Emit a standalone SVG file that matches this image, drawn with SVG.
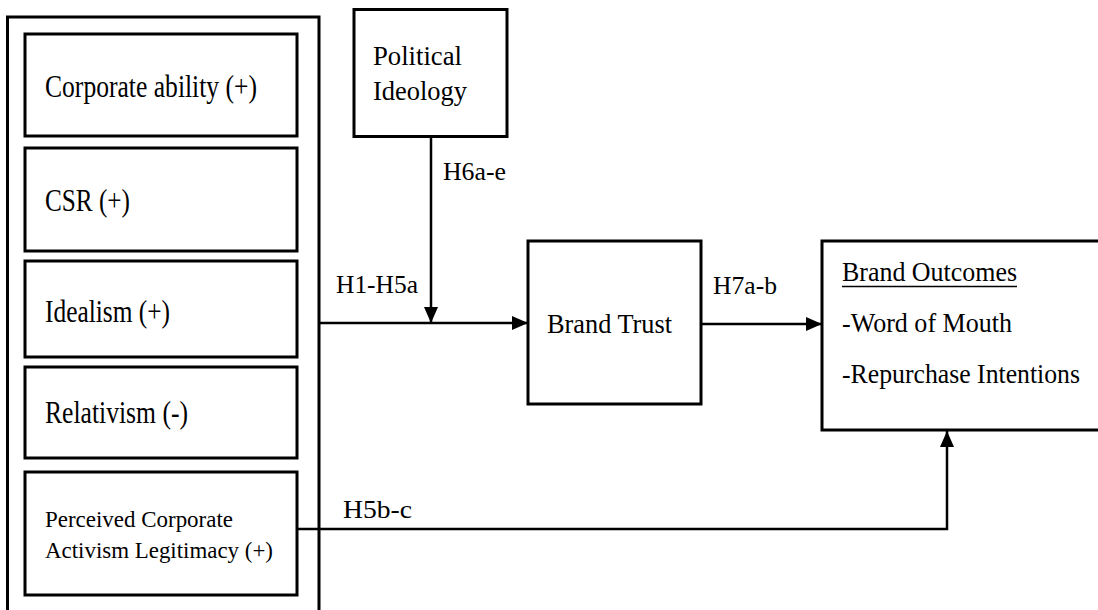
<svg xmlns="http://www.w3.org/2000/svg" width="1098" height="610" viewBox="0 0 1098 610">
  <style>
    .box { fill: #fff; stroke: #000; stroke-width: 3; }
    .frame { fill: none; stroke: #000; stroke-width: 3; }
    .conn { fill: none; stroke: #000; stroke-width: 2.5; }
    text { font-family: "Liberation Serif", "Times New Roman", serif; fill: #000; }
    .lbl { font-size: 31px; }
    .sm { font-size: 24px; }
    .mid { font-size: 28px; }
    .hyp { font-size: 26px; }
  </style>
  <defs>
    <marker id="arrow" viewBox="0 0 16 14" refX="16" refY="7" markerWidth="16" markerHeight="14" markerUnits="userSpaceOnUse" orient="auto">
      <path d="M0,0 L16,7 L0,14 z" fill="#000"/>
    </marker>
  </defs>

  <rect width="1098" height="610" fill="#fff"/>

  <!-- antecedents frame (open at the bottom) -->
  <g id="antecedents">
    <path class="frame" d="M7.5,612 V17 H319 V612"/>
  </g>

  <g id="corporate-ability">
    <rect class="box" x="25" y="34" width="272" height="102"/>
    <text class="lbl" x="45" y="97" textLength="212" lengthAdjust="spacingAndGlyphs">Corporate ability (+)</text>
  </g>
  <g id="csr">
    <rect class="box" x="25" y="148" width="272" height="103"/>
    <text class="lbl" x="45" y="211" textLength="85" lengthAdjust="spacingAndGlyphs">CSR (+)</text>
  </g>
  <g id="idealism">
    <rect class="box" x="25" y="261" width="272" height="96"/>
    <text class="lbl" x="45" y="322" textLength="125" lengthAdjust="spacingAndGlyphs">Idealism (+)</text>
  </g>
  <g id="relativism">
    <rect class="box" x="25" y="367" width="272" height="91"/>
    <text class="lbl" x="45" y="423" textLength="143" lengthAdjust="spacingAndGlyphs">Relativism (-)</text>
  </g>
  <g id="activism-legitimacy">
    <rect class="box" x="25" y="472" width="272" height="123"/>
    <text class="sm" x="45" y="527" textLength="188" lengthAdjust="spacingAndGlyphs">Perceived Corporate</text>
    <text class="sm" x="45" y="558" textLength="228" lengthAdjust="spacingAndGlyphs">Activism Legitimacy (+)</text>
  </g>

  <g id="political-ideology">
    <rect class="box" x="354" y="9.5" width="153" height="127"/>
    <text class="mid" x="373" y="65" textLength="89" lengthAdjust="spacingAndGlyphs">Political</text>
    <text class="mid" x="373" y="100" textLength="94" lengthAdjust="spacingAndGlyphs">Ideology</text>
  </g>

  <g id="brand-trust">
    <rect class="box" x="528" y="241" width="173" height="163"/>
    <text class="mid" x="547" y="333" textLength="125" lengthAdjust="spacingAndGlyphs">Brand Trust</text>
  </g>

  <g id="brand-outcomes">
    <rect class="box" x="822" y="241" width="300" height="189"/>
    <text class="mid" x="842" y="281" textLength="175" lengthAdjust="spacingAndGlyphs">Brand Outcomes</text>
    <line x1="842" y1="286.5" x2="1017" y2="286.5" stroke="#000" stroke-width="1.5"/>
    <text class="mid" x="842" y="332" textLength="170" lengthAdjust="spacingAndGlyphs">-Word of Mouth</text>
    <text class="mid" x="842" y="383" textLength="238" lengthAdjust="spacingAndGlyphs">-Repurchase Intentions</text>
  </g>

  <!-- paths between constructs -->
  <g id="connectors">
    <line class="conn" x1="319" y1="323" x2="528" y2="323" marker-end="url(#arrow)"/>
    <line class="conn" x1="431" y1="136" x2="431" y2="323" marker-end="url(#arrow)"/>
    <line class="conn" x1="701" y1="324" x2="822" y2="324" marker-end="url(#arrow)"/>
    <path class="conn" d="M297,529 H947 V431" marker-end="url(#arrow)"/>
    <text class="hyp" x="443" y="180" textLength="63" lengthAdjust="spacingAndGlyphs">H6a-e</text>
    <text class="hyp" x="336" y="293" textLength="82" lengthAdjust="spacingAndGlyphs">H1-H5a</text>
    <text class="hyp" x="713" y="294" textLength="64" lengthAdjust="spacingAndGlyphs">H7a-b</text>
    <text class="hyp" x="343" y="518" textLength="69" lengthAdjust="spacingAndGlyphs">H5b-c</text>
  </g>
</svg>
